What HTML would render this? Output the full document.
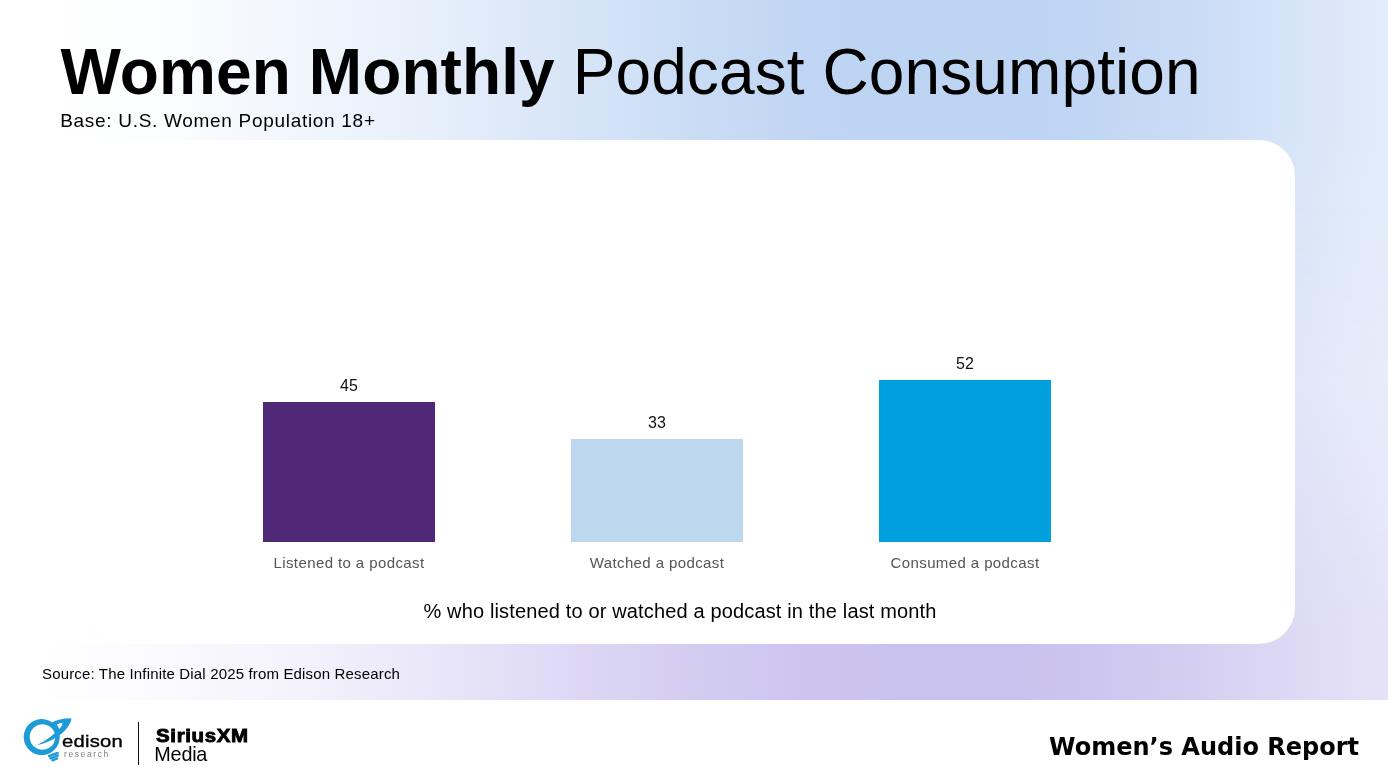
<!DOCTYPE html>
<html><head><meta charset="utf-8"><title>Women Monthly Podcast Consumption</title>
<style>
html,body{margin:0;padding:0;}
body{width:1388px;height:775px;overflow:hidden;background:#fff;font-family:"Liberation Sans",Arial,sans-serif;color:#000;position:relative;}
.bg{position:absolute;left:0;top:0;width:1388px;height:700px;}
#bgtop{background:linear-gradient(90deg,#ffffff 0px,#fdfeff 150px,#f8fbfe 200px,#f1f6fd 300px,#e9f1fb 400px,#dfeaf9 500px,#d4e3f7 600px,#c9dcf5 700px,#c1d6f4 800px,#bed4f3 860px,#bed4f3 1040px,#c2d7f4 1100px,#cbdcf6 1200px,#d8e5f8 1300px,#e2ebfa 1388px);}
#bgbot{background:linear-gradient(90deg,#ffffff 0px,#ffffff 40px,#fdfcff 100px,#f9f8fe 200px,#f4f2fc 300px,#ece9fa 400px,#e4e0f7 500px,#dbd5f4 600px,#d3ccf1 700px,#cdc5ef 800px,#cac2ee 900px,#cac2ee 1020px,#cdc6ef 1100px,#d5cff2 1200px,#dedaf5 1300px,#e6e3f8 1388px);
 -webkit-mask-image:linear-gradient(180deg,rgba(0,0,0,0) 0px,rgba(0,0,0,0) 200px,rgba(0,0,0,0.5) 440px,rgba(0,0,0,1) 630px,rgba(0,0,0,1) 700px);
 mask-image:linear-gradient(180deg,rgba(0,0,0,0) 0px,rgba(0,0,0,0) 200px,rgba(0,0,0,0.5) 440px,rgba(0,0,0,1) 630px,rgba(0,0,0,1) 700px);}
#bglight{background:linear-gradient(180deg,rgba(255,255,255,0) 120px,rgba(255,255,255,0.2) 380px,rgba(255,255,255,0) 620px);}
#card{position:absolute;left:92px;top:139.5px;width:1202.5px;height:504.5px;background:#fff;border-radius:36px;}
#cardfade{position:absolute;left:0;top:139.5px;width:240px;height:504.5px;background:linear-gradient(90deg,rgba(255,255,255,0.85) 0%,rgba(255,255,255,0.85) 40%,rgba(255,255,255,0) 100%);}
#title{position:absolute;left:60.5px;top:35px;font-size:64px;line-height:74px;white-space:nowrap;letter-spacing:0.1px;}
#title b{font-weight:bold;}
#sub{position:absolute;left:60.2px;top:109.7px;font-size:19px;line-height:22px;white-space:nowrap;letter-spacing:0.7px;}
.bar{position:absolute;}
.val{position:absolute;width:172px;text-align:center;font-size:16px;line-height:18px;color:#111;}
.lab{position:absolute;width:260px;text-align:center;font-size:15px;line-height:18px;margin-top:-0.4px;color:#555;white-space:nowrap;letter-spacing:0.4px;}
#cap{position:absolute;left:380px;width:600px;top:599px;text-align:center;font-size:20px;line-height:24px;white-space:nowrap;letter-spacing:0.15px;}
#src{position:absolute;left:42px;top:665px;font-size:15px;line-height:18px;white-space:nowrap;letter-spacing:0.16px;}
#war{position:absolute;right:29px;top:729.5px;font-size:24px;line-height:34px;font-weight:bold;font-family:"DejaVu Sans","Liberation Sans",sans-serif;white-space:nowrap;}
#logo{position:absolute;left:0;top:700px;width:280px;height:75px;}
#edison{position:absolute;left:62.3px;top:729.6px;font-size:17px;line-height:24px;letter-spacing:0.2px;white-space:nowrap;-webkit-text-stroke:0.35px #000;transform:scaleX(1.19);transform-origin:0 0;}
#research{position:absolute;left:64px;top:748px;font-size:8.5px;line-height:12px;letter-spacing:1.6px;color:#808080;white-space:nowrap;}
#divider{position:absolute;left:137.6px;top:722px;width:1.8px;height:43px;background:#111;}
#sxm{position:absolute;left:155.6px;top:725.3px;font-size:18.8px;line-height:22px;font-weight:bold;letter-spacing:0.6px;white-space:nowrap;-webkit-text-stroke:0.9px #000;transform:scaleX(1.09);transform-origin:0 0;}
#media{position:absolute;left:154.3px;top:743.2px;font-size:19.8px;line-height:22px;white-space:nowrap;letter-spacing:-0.2px;}
</style></head>
<body>
<div class="bg" id="bgtop"></div>
<div class="bg" id="bgbot"></div>
<div class="bg" id="bglight"></div>
<div id="card"></div>
<div id="cardfade"></div>
<div id="title"><b>Women Monthly</b> Podcast Consumption</div>
<div id="sub">Base: U.S. Women Population 18+</div>

<div class="bar" id="b1" style="left:263px;top:402px;width:172px;height:140px;background:#4f2978;"></div>
<div class="bar" id="b2" style="left:571px;top:439px;width:172px;height:103px;background:#bdd7ee;"></div>
<div class="bar" id="b3" style="left:879px;top:380px;width:172px;height:162px;background:#00a0df;"></div>
<div class="val" id="v1" style="left:263px;top:376.5px;">45</div>
<div class="val" id="v2" style="left:571px;top:413.5px;">33</div>
<div class="val" id="v3" style="left:879px;top:354.5px;">52</div>
<div class="lab" id="l1" style="left:219px;top:554.5px;">Listened to a podcast</div>
<div class="lab" id="l2" style="left:527px;top:554.5px;">Watched a podcast</div>
<div class="lab" id="l3" style="left:835px;top:554.5px;">Consumed a podcast</div>
<div id="cap">% who listened to or watched a podcast in the last month</div>
<div id="src">Source: The Infinite Dial 2025 from Edison Research</div>

<svg id="logo" viewBox="0 700 280 75">
 <g fill="#1d9bd7">
  <path fill-rule="evenodd" d="M41.7 719.1a18 18 0 1 0 0.01 0z M42.5 724.2a12.8 12.8 0 1 1 -0.01 0z"/>
  <path d="M37.05 745.03 C45 743.4 51.5 740.6 57 736.9 C63.5 733 68.8 727.5 71.3 720 Q71.9 718.2 70 718.3 C63 718.3 56.5 720 51.5 722.8 L55 727.5 L55.5 732.6 C51.5 736.5 45 741.3 37.05 745.03 Z"/>
 </g>
 <path fill="#fff" d="M56.93 724.43 C59 723.4 61 722.8 62.61 722.65 C62.2 725.3 61 727.5 59.06 729.05 C58.6 727.3 57.9 725.8 56.93 724.43 Z"/>
 <g stroke="#1d9bd7" stroke-width="2.4" stroke-linecap="round" fill="none">
  <path d="M49 756.1 L57.6 753"/>
  <path d="M50.5 758.4 L57.8 755.6"/>
  <path d="M52.5 760.4 L57.1 758.5"/>
 </g>
</svg>
<div id="edison">edison</div>
<div id="research">research</div>
<div id="divider"></div>
<div id="sxm">SiriusXM</div>
<div id="media">Media</div>
<div id="war">Women’s Audio Report</div>
</body></html>
